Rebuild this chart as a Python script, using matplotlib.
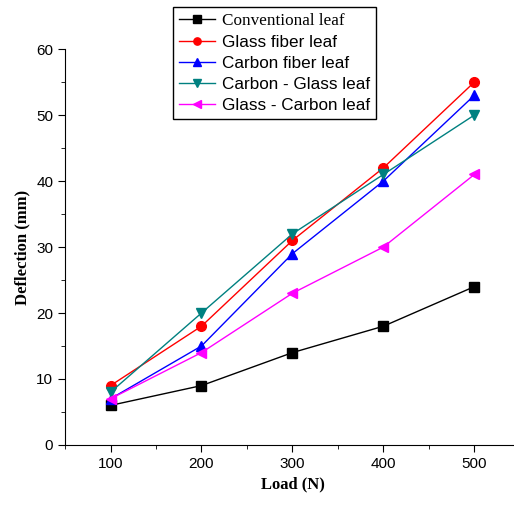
import matplotlib.pyplot as plt
from matplotlib.ticker import MultipleLocator

load = [100, 200, 300, 400, 500]
conventional = [6, 9, 14, 18, 24]
glass_fiber = [9, 18, 31, 42, 55]
carbon_fiber = [7, 15, 29, 40, 53]
carbon_glass = [8, 20, 32, 41, 50]
glass_carbon = [7, 14, 23, 30, 41]

fig = plt.figure(figsize=(5.14, 5.07), dpi=100)
ax = fig.add_axes([0.1265, 0.1223, 0.885, 0.781])

ax.plot(load, conventional, color='black', marker='s', markersize=7, linewidth=1, label='Conventional leaf')
ax.plot(load, glass_fiber, color='red', marker='o', markersize=7, linewidth=1, label='Glass fiber leaf')
ax.plot(load, carbon_fiber, color='blue', marker='^', markersize=7, linewidth=1, label='Carbon fiber leaf')
ax.plot(load, carbon_glass, color='#008080', marker='v', markersize=7, linewidth=1, label='Carbon - Glass leaf')
ax.plot(load, glass_carbon, color='magenta', marker='<', markersize=7, linewidth=1, label='Glass - Carbon leaf')

ax.set_xlim(50, 550)
ax.set_ylim(0, 60)
ax.xaxis.set_major_locator(MultipleLocator(100))
ax.xaxis.set_minor_locator(MultipleLocator(50))
ax.yaxis.set_major_locator(MultipleLocator(10))
ax.yaxis.set_minor_locator(MultipleLocator(5))
ax.spines['top'].set_visible(False)
ax.spines['right'].set_visible(False)
ax.tick_params(which='major', length=5, direction='out', labelsize=11)
ax.tick_params(which='minor', length=3, direction='out')
for lab in ax.get_xticklabels() + ax.get_yticklabels():
    lab.set_family('Liberation Sans')

ax.set_xlabel('Load (N)', fontsize=12, fontweight='bold', family='Liberation Serif')
ax.set_ylabel('Deflection (mm)', fontsize=12, fontweight='bold', family='Liberation Serif')

leg = ax.legend(loc='upper left', bbox_to_anchor=(0.237, 1.106), fontsize=12.3,
                frameon=True, fancybox=False, edgecolor='black', framealpha=1,
                borderpad=0.35, labelspacing=0.35, handlelength=2.1, handletextpad=0.4,
                borderaxespad=0, markerscale=0.75)
leg.get_frame().set_linewidth(1)
for i, t in enumerate(leg.get_texts()):
    t.set_family('Liberation Serif' if i == 0 else 'Liberation Sans')

fig.savefig('out.png', dpi=100)
